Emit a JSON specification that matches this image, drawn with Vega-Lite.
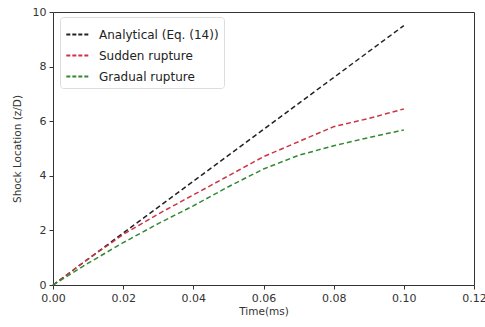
{
  "$schema": "https://vega.github.io/schema/vega-lite/v6.json",
  "width": 421,
  "height": 273,
  "autosize": {"type": "none"},
  "padding": {"left": 53, "top": 12, "right": 11, "bottom": 42},
  "background": "white",
  "config": {
    "font": "DejaVu Sans",
    "view": {"stroke": "#333", "strokeWidth": 1},
    "axis": {"grid": false, "domain": false, "tickColor": "#333", "tickSize": 4, "labelColor": "#333", "titleColor": "#333", "labelFontSize": 11, "titleFontSize": 10.5, "titleFontWeight": "normal", "labelFont": "DejaVu Sans", "titleFont": "DejaVu Sans", "labelFlush": false, "labelOverlap": false}
  },
  "data": {
    "values": [
      {"t": 0.0, "z": 0.0, "s": "Analytical (Eq. (14))"},
      {"t": 0.1, "z": 9.5, "s": "Analytical (Eq. (14))"},
      {"t": 0.0, "z": 0.0, "s": "Sudden rupture"},
      {"t": 0.01, "z": 0.95, "s": "Sudden rupture"},
      {"t": 0.02, "z": 1.85, "s": "Sudden rupture"},
      {"t": 0.03, "z": 2.6, "s": "Sudden rupture"},
      {"t": 0.04, "z": 3.3, "s": "Sudden rupture"},
      {"t": 0.05, "z": 4.0, "s": "Sudden rupture"},
      {"t": 0.06, "z": 4.7, "s": "Sudden rupture"},
      {"t": 0.07, "z": 5.25, "s": "Sudden rupture"},
      {"t": 0.08, "z": 5.8, "s": "Sudden rupture"},
      {"t": 0.09, "z": 6.1, "s": "Sudden rupture"},
      {"t": 0.1, "z": 6.45, "s": "Sudden rupture"},
      {"t": 0.0, "z": 0.0, "s": "Gradual rupture"},
      {"t": 0.01, "z": 0.8, "s": "Gradual rupture"},
      {"t": 0.02, "z": 1.55, "s": "Gradual rupture"},
      {"t": 0.03, "z": 2.25, "s": "Gradual rupture"},
      {"t": 0.04, "z": 2.9, "s": "Gradual rupture"},
      {"t": 0.05, "z": 3.6, "s": "Gradual rupture"},
      {"t": 0.06, "z": 4.25, "s": "Gradual rupture"},
      {"t": 0.07, "z": 4.75, "s": "Gradual rupture"},
      {"t": 0.08, "z": 5.1, "s": "Gradual rupture"},
      {"t": 0.09, "z": 5.4, "s": "Gradual rupture"},
      {"t": 0.1, "z": 5.68, "s": "Gradual rupture"}
    ]
  },
  "mark": {"type": "line", "strokeDash": [5, 3], "strokeWidth": 1.5},
  "encoding": {
    "x": {"field": "t", "type": "quantitative", "title": "Time(ms)", "scale": {"domain": [0, 0.12], "nice": false}, "axis": {"values": [0, 0.02, 0.04, 0.06, 0.08, 0.1, 0.12], "format": ".2f", "titlePadding": 3, "labelPadding": 3}},
    "y": {"field": "z", "type": "quantitative", "title": "Shock Location (z/D)", "scale": {"domain": [0, 10], "nice": false}, "axis": {"values": [0, 2, 4, 6, 8, 10], "titlePadding": 10, "labelPadding": 3}},
    "color": {
      "field": "s", "type": "nominal",
      "scale": {"domain": ["Analytical (Eq. (14))", "Sudden rupture", "Gradual rupture"], "range": ["#222222", "#cc3344", "#338833"]},
      "legend": {"title": null, "orient": "none", "legendX": 7, "legendY": 5, "symbolType": "stroke", "symbolDash": [4, 2], "symbolStrokeWidth": 2, "symbolSize": 500, "labelFontSize": 12, "labelColor": "#222", "labelOffset": 9, "fillColor": "white", "strokeColor": "#ddd", "padding": 5, "cornerRadius": 3, "rowPadding": 2}
    }
  }
}
